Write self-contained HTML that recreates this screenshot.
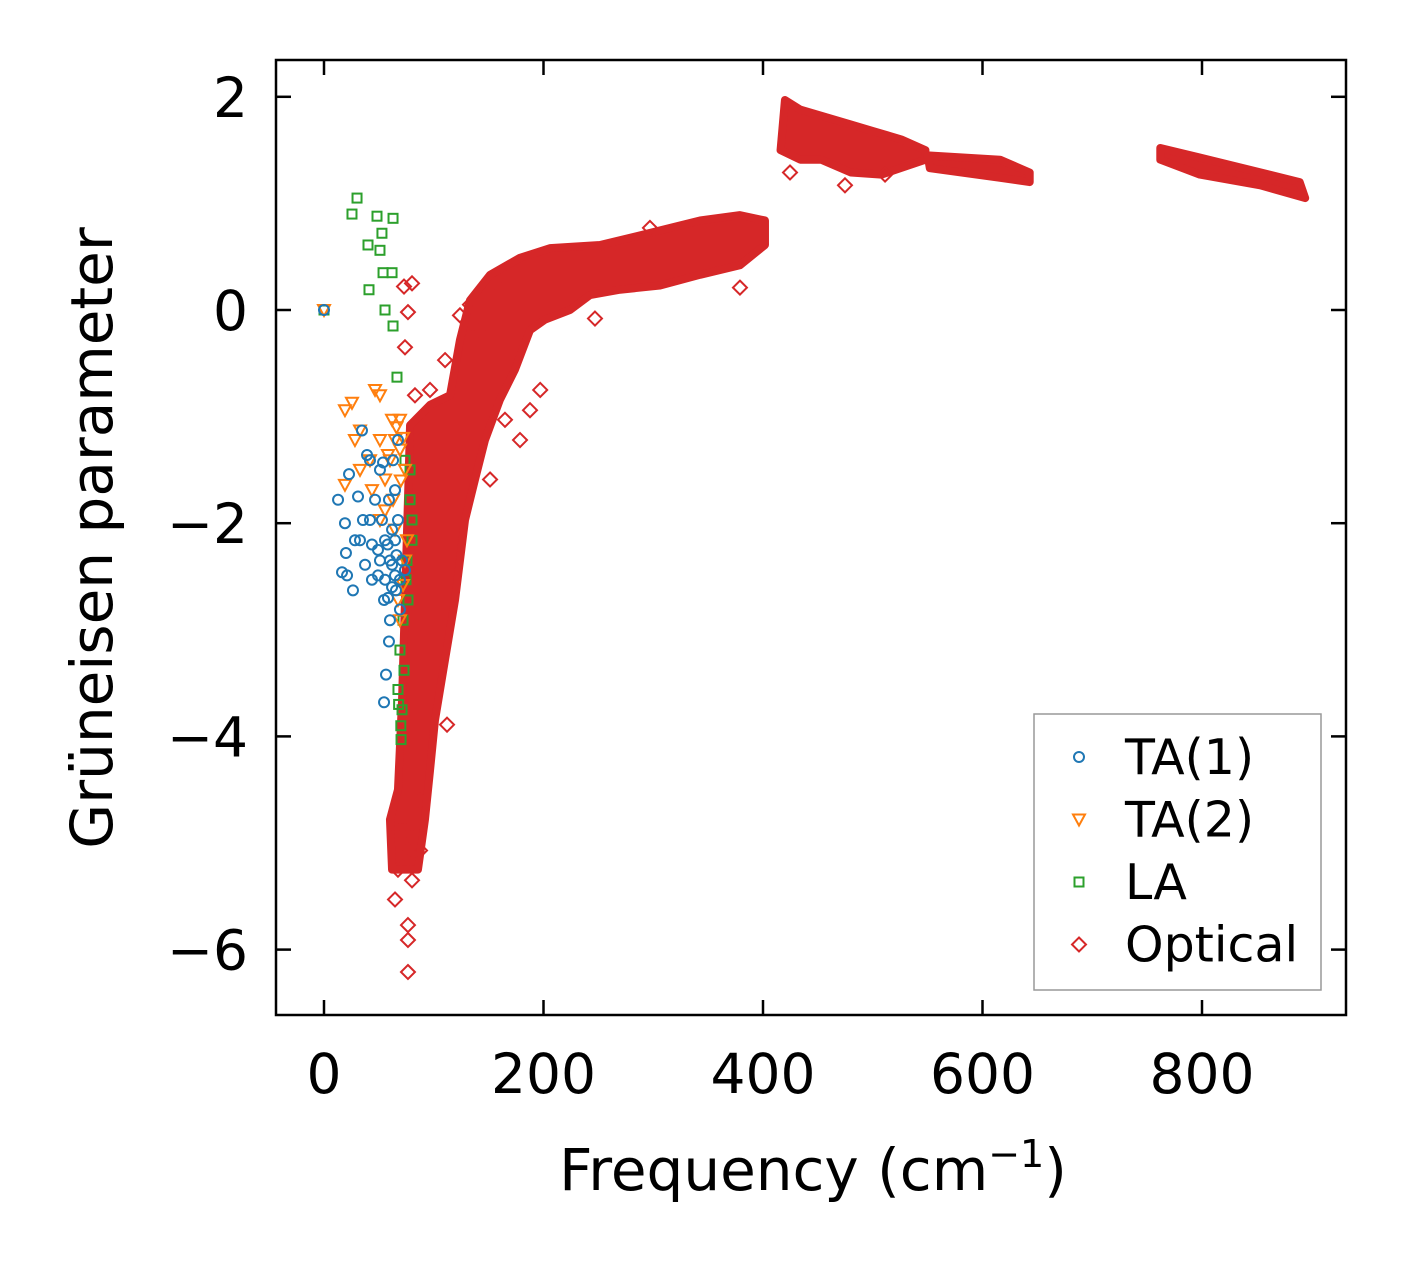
<!DOCTYPE html>
<html><head><meta charset="utf-8"><style>
html,body{margin:0;padding:0;background:#fff}
svg text{font-family:"DejaVu Sans","Liberation Sans",sans-serif;fill:#000}
</style></head><body>
<svg id="chart" width="1406" height="1264" viewBox="0 0 1406 1264" xmlns="http://www.w3.org/2000/svg">
<g id="marks"></g>
<rect x="276" y="60" width="1070" height="955" fill="none" stroke="#000" stroke-width="2.5"/>
<g id="axes"></g>
<text x="813" y="1190" font-size="58" text-anchor="middle">Frequency (cm<tspan font-size="38" dy="-23">−1</tspan><tspan dy="23">)</tspan></text>
<text transform="translate(112,538) rotate(-90)" font-size="58" text-anchor="middle">Grüneisen parameter</text>
<g>
<rect x="1034" y="714" width="287" height="276" fill="#fff" stroke="#999" stroke-width="1.5"/>
<g id="legend-items"></g>
</g>
</svg>
<script>
const xTicks=[0,200,400,600,800];
const yTicks=[2,0,-2,-4,-6];
const seriesNames=["TA(1)","TA(2)","LA","Optical"];
const seriesColors=["#1f77b4","#ff7f0e","#2ca02c","#d62728"];
const ta1=[[0,0],[12.8,-1.78],[16.4,-2.46],[20.0,-2.28],[22.8,-1.54],[26.4,-2.63],[31.0,-1.75],[34.6,-1.13],[35.5,-1.97],[39.2,-1.36],[41.9,-1.41],[43.7,-2.20],[46.5,-1.78],[51.0,-1.50],[53.8,-1.43],[55.6,-2.16],[49.2,-2.49],[52.8,-1.97],[58.3,-2.70],[60.1,-2.91],[59.2,-3.11],[56.5,-3.42],[54.7,-3.68],[62.0,-2.39],[64.7,-2.16],[67.4,-1.97],[65.6,-2.63],[69.2,-2.53],[69.2,-2.81],[59.2,-1.78],[43.7,-2.53],[37.4,-2.39],[28.2,-2.16],[21.0,-2.49],[41.9,-1.97],[64.7,-1.69],[71.1,-2.35],[73.8,-2.44],[49.2,-2.25],[54.7,-2.72],[19.1,-2.00],[32.8,-2.16],[62.0,-2.06],[67.4,-1.22],[62.9,-1.41],[60.1,-2.35],[55.6,-2.53],[64.7,-2.49],[51.0,-2.35],[58,-2.2],[62,-2.6],[66,-2.3]];
const ta2=[[0,0],[25.5,-0.87],[19.1,-0.94],[46.5,-0.75],[51.0,-0.80],[32.8,-1.13],[51.0,-1.22],[62.0,-1.03],[19.1,-1.64],[32.8,-1.50],[43.7,-1.69],[60.1,-1.41],[69.2,-1.31],[55.6,-1.88],[64.7,-2.06],[73.8,-2.35],[67.4,-2.72],[69.2,-2.91],[55.6,-1.59],[41.9,-1.41],[28.2,-1.22],[69.2,-1.03],[62.9,-1.78],[51.0,-1.97],[75.6,-2.16],[72.0,-2.58],[64.7,-1.22],[73.8,-1.50],[58.3,-1.36],[66,-1.1],[72,-1.2],[70,-1.6]];
const la=[[0,0],[30.1,1.05],[25.5,0.90],[48.3,0.88],[62.9,0.86],[52.8,0.72],[40.1,0.61],[51.0,0.56],[53.8,0.35],[62.0,0.35],[41.0,0.19],[55.6,0.00],[62.9,-0.15],[66.5,-0.63],[73.8,-1.41],[78.4,-1.78],[80.2,-2.16],[74.7,-2.53],[72.0,-2.91],[69.2,-3.19],[67.4,-3.56],[71.1,-3.75],[70.2,-4.03],[76.5,-2.72],[80.2,-1.97],[78.4,-1.50],[72.9,-3.38],[75.6,-2.35],[70,-3.9],[68,-3.7]];
const opticalOutliers=[[72.9,0.22],[80.2,0.25],[76.5,-0.02],[73.8,-0.35],[82.9,-0.80],[96.6,-0.75],[110.3,-0.47],[142.1,-0.19],[151.3,-1.59],[178.6,-1.22],[187.7,-0.94],[197.0,-0.75],[164.9,-1.03],[112.1,-3.89],[64.7,-5.53],[76.5,-5.77],[76.5,-5.91],[76.5,-6.21],[67.4,-5.25],[78.4,-5.16],[73.8,-4.88],[87.5,-4.60],[424.6,1.29],[474.7,1.17],[511.2,1.27],[887.5,1.13],[297.0,0.77],[379.0,0.21],[246.9,-0.08],[260.6,0.56],[133.0,0.05],[160.4,0.19],[123.9,-0.05],[69.2,-4.88],[80.2,-5.35],[76.5,-5.07],[87.5,-5.07]];
const opticalBand=[[62,-5.25],[60.1,-4.78],[67.4,-4.5],[71.1,-3.66],[73.8,-2.72],[76.5,-1.78],[78.4,-1.08],[96.6,-0.89],[114.8,-0.80],[123.9,-0.28],[133.0,0.09],[151.3,0.33],[178.6,0.49],[205.9,0.58],[251.5,0.61],[287.9,0.70],[342.6,0.84],[379.0,0.89],[401.8,0.84],[401.8,0.61],[379,0.42],[342.6,0.33],[306.2,0.23],[269.7,0.19],[242.4,0.14],[224.1,0.0],[201.4,-0.09],[187.7,-0.19],[174.0,-0.56],[160.4,-0.84],[146.7,-1.22],[137.6,-1.59],[128.5,-1.97],[119.4,-2.72],[110.3,-3.28],[101.1,-3.85],[96.6,-4.32],[92.0,-4.78],[85.6,-5.25]];
const opticalBandA=[[420,1.97],[434,1.88],[480,1.74],[526,1.60],[548,1.50],[548,1.41],[508,1.27],[480,1.29],[453,1.41],[434,1.41],[416,1.50]];
const opticalBandB=[[550,1.45],[616,1.41],[643,1.29],[643,1.20],[616,1.24],[552,1.33]];
const opticalBandC=[[762,1.52],[798,1.43],[889,1.20],[894,1.05],[853,1.17],[798,1.27],[762,1.41]];

const X=v=>324+v*1.0975, Y=v=>310-v*106.6;
const NS="http://www.w3.org/2000/svg";
const marks=document.getElementById('marks'), axes=document.getElementById('axes');
function mk(tag,attrs,parent){const e=document.createElementNS(NS,tag);for(const k in attrs)e.setAttribute(k,attrs[k]);parent.appendChild(e);return e;}
function marker(kind,cx,cy,color,parent){
  let e;
  if(kind===0){e=mk('circle',{cx:cx,cy:cy,r:5,fill:'none',stroke:color,'stroke-width':2},parent);}
  else if(kind===1){e=mk('polygon',{points:`${cx-6},${cy-5} ${cx+6},${cy-5} ${cx},${cy+6}`,fill:'none',stroke:color,'stroke-width':2},parent);}
  else if(kind===2){e=mk('rect',{x:cx-4.5,y:cy-4.5,width:9,height:9,fill:'none',stroke:color,'stroke-width':2},parent);}
  else {e=mk('polygon',{points:`${cx},${cy-7} ${cx+7},${cy} ${cx},${cy+7} ${cx-7},${cy}`,fill:'none',stroke:color,'stroke-width':2},parent);}
  return e;
}
[opticalBand,opticalBandA,opticalBandB,opticalBandC].forEach((band,i)=>{
  const p=mk('polygon',{points:band.map(d=>X(d[0])+','+Y(d[1])).join(' '),fill:seriesColors[3],stroke:seriesColors[3],'stroke-width':8,'stroke-linejoin':'round'},marks);
  
  
});
opticalOutliers.forEach(d=>{const e=marker(3,X(d[0]),Y(d[1]),seriesColors[3],marks);
  
  });
la.forEach(d=>{const e=marker(2,X(d[0]),Y(d[1]),seriesColors[2],marks);
  
  });
ta2.forEach(d=>{const e=marker(1,X(d[0]),Y(d[1]),seriesColors[1],marks);
  
  });
ta1.forEach(d=>{const e=marker(0,X(d[0]),Y(d[1]),seriesColors[0],marks);
  
  });
xTicks.forEach(t=>{const x=X(t);
  mk('line',{x1:x,x2:x,y1:1015,y2:1000,stroke:'#000','stroke-width':2.5},axes);
  mk('line',{x1:x,x2:x,y1:60,y2:75,stroke:'#000','stroke-width':2.5},axes);
  const tx=mk('text',{x:x,y:1093,'font-size':55,'text-anchor':'middle'},axes);tx.textContent=t;
  
  });
yTicks.forEach(t=>{const y=Y(t);
  mk('line',{x1:276,x2:291,y1:y,y2:y,stroke:'#000','stroke-width':2.5},axes);
  mk('line',{x1:1346,x2:1331,y1:y,y2:y,stroke:'#000','stroke-width':2.5},axes);
  const tx=mk('text',{x:248,y:y+20,'font-size':55,'text-anchor':'end'},axes);tx.textContent=(t<0?'−':'')+Math.abs(t);
  
  });
const li=document.getElementById('legend-items');
seriesNames.forEach((n,i)=>{const y=757+i*62.5;
  const m=marker(i,1079,y,seriesColors[i],li);
  
  
  const t=mk('text',{x:1125,y:y+17,'font-size':49},li);t.textContent=n;
  
  });
</script>
</body></html>
